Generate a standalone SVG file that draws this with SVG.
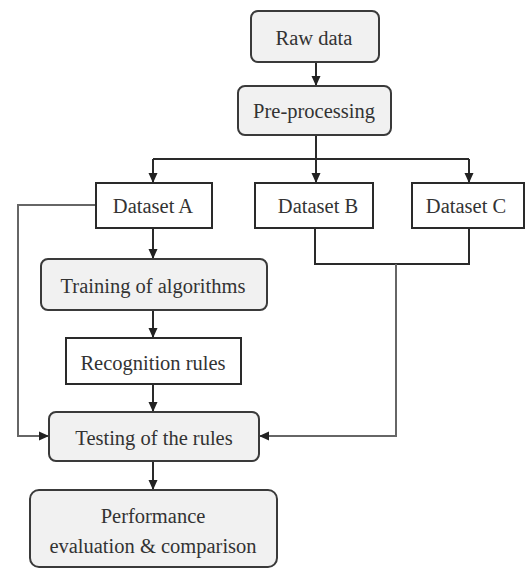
<svg xmlns="http://www.w3.org/2000/svg" width="526" height="569" viewBox="0 0 526 569">
<style>
.rnd{fill:#f1f1f1;stroke:#3a3a3a;stroke-width:2}
.sq{fill:#ffffff;stroke:#2a2a2a;stroke-width:2}
.t{font-family:'Liberation Serif','Times New Roman',serif;font-size:20.5px;fill:#333;text-anchor:middle}
.c{fill:none;stroke:#2a2a2a;stroke-width:2}
.g{fill:none;stroke:#666;stroke-width:2}
</style>
<defs>
<marker id="ah" markerUnits="userSpaceOnUse" markerWidth="10" markerHeight="10" viewBox="0 0 10 10" refX="10" refY="5" orient="auto">
<path d="M0,0.5 L10,5 L0,9.5 z" fill="#222"/>
</marker>
</defs>
<rect width="526" height="569" fill="#fff"/>
<g id="connectors">
<path class="c" d="M316,62 V86" marker-end="url(#ah)"/>
<path class="c" d="M316,135 V159 M153,159 H469"/>
<path class="c" d="M153,159 V183" marker-end="url(#ah)"/>
<path class="c" d="M316,159 V183" marker-end="url(#ah)"/>
<path class="c" d="M469,159 V183" marker-end="url(#ah)"/>
<path class="c" d="M153,228 V259" marker-end="url(#ah)"/>
<path class="c" d="M153,310 V338" marker-end="url(#ah)"/>
<path class="c" d="M153,384 V412" marker-end="url(#ah)"/>
<path class="c" d="M153,461 V490" marker-end="url(#ah)"/>
<path class="g" d="M96,205 H18 V436 H49" marker-end="url(#ah)"/>
<path class="c" d="M315,228 V264 H469 V228"/>
<path class="g" d="M396,264 V436 H259" marker-end="url(#ah)"/>
</g>
<g id="raw-data">
<rect class="rnd" x="251" y="11" width="128" height="51" rx="7"/>
<text class="t" x="314" y="45">Raw data</text>
</g>
<g id="pre-processing">
<rect class="rnd" x="238" y="86" width="153" height="49" rx="7"/>
<text class="t" x="314" y="118">Pre-processing</text>
</g>
<g id="dataset-a">
<rect class="sq" x="96" y="183" width="116" height="45"/>
<text class="t" x="153" y="213">Dataset A</text>
</g>
<g id="dataset-b">
<rect class="sq" x="255" y="183" width="118" height="45"/>
<text class="t" x="318" y="213">Dataset B</text>
</g>
<g id="dataset-c">
<rect class="sq" x="412" y="183" width="112" height="45"/>
<text class="t" x="466" y="213">Dataset C</text>
</g>
<g id="training">
<rect class="rnd" x="41" y="259" width="226" height="51" rx="7"/>
<text class="t" x="153" y="293">Training of algorithms</text>
</g>
<g id="recognition-rules">
<rect class="sq" x="66" y="338" width="175" height="46"/>
<text class="t" x="153" y="370">Recognition rules</text>
</g>
<g id="testing">
<rect class="rnd" x="49" y="412" width="210" height="49" rx="7"/>
<text class="t" x="154" y="445">Testing of the rules</text>
</g>
<g id="performance">
<rect class="rnd" x="30" y="490" width="247" height="77" rx="9"/>
<text class="t" x="153" y="523">Performance</text>
<text class="t" x="153" y="553">evaluation &amp; comparison</text>
</g>
</svg>
